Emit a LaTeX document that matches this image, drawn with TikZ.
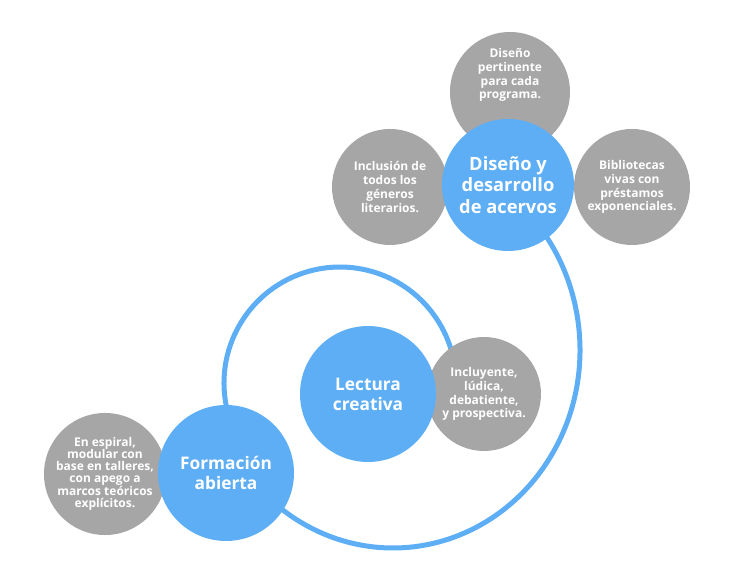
\documentclass[tikz,border=0pt]{standalone}
\usepackage{fontspec}
\setmainfont{Open Sans}
\definecolor{blu}{HTML}{5EAEF5}
\definecolor{gry}{HTML}{A6A6A6}
\begin{document}
\begin{tikzpicture}[x=1pt,y=1pt,
  bluec/.style={circle, fill=blu, text=white, inner sep=0pt, align=center,
    font=\bfseries\fontsize{17.3}{20}\selectfont},
  grayc/.style={circle, fill=gry, text=white, inner sep=0pt, align=center,
    font=\bfseries\fontsize{12}{13.8}\selectfont},
  graytext/.style={text=white, inner sep=0pt, align=center,
    font=\bfseries\fontsize{12}{13.8}\selectfont},
  spiral/.style={draw=blu, line width=5pt}]
\useasboundingbox (0,0) rectangle (733,583);
% spiral centres
\coordinate (ringc) at (340,200);
\coordinate (outc) at (393,233);
\draw[spiral] (ringc) ++(192:116) arc[start angle=192, end angle=0, radius=116];
\draw[spiral] (outc) ++(55:187 and 198) arc[start angle=55, end angle=-144, x radius=187, y radius=198];
% gray circles
\node[grayc, minimum size=120pt] (top) at (510,491) {};
\node[graytext] (toptext) at (510,508) {Diseño\\pertinente\\para cada\\programa.};
\node[grayc, minimum size=116pt] (left) at (390,396) {Inclusión de\\todos los\\géneros\\literarios.};
\node[grayc, minimum size=116pt] (right) at (632,396) {Bibliotecas\\vivas con\\préstamos\\exponenciales.};
\node[grayc, minimum size=114pt] (incl) at (484,189) {Incluyente,\\lúdica,\\debatiente,\\y prospectiva.};
\node[grayc, minimum size=116pt, font=\bfseries\fontsize{12}{12}\selectfont] (esp) at (105,109) {En espiral,\\modular con\\base en talleres,\\con apego a\\marcos teóricos\\explícitos.};
% blue circles
\node[bluec, minimum size=132pt, font=\bfseries\fontsize{18.3}{21.5}\selectfont] (dis) at (508,398) {Diseño y\\desarrollo\\de acervos};
\node[bluec, minimum size=136pt] (lect) at (368,189) {Lectura\\creativa};
\node[bluec, minimum size=136pt] (form) at (226,110) {Formación\\abierta};
\end{tikzpicture}
\end{document}
